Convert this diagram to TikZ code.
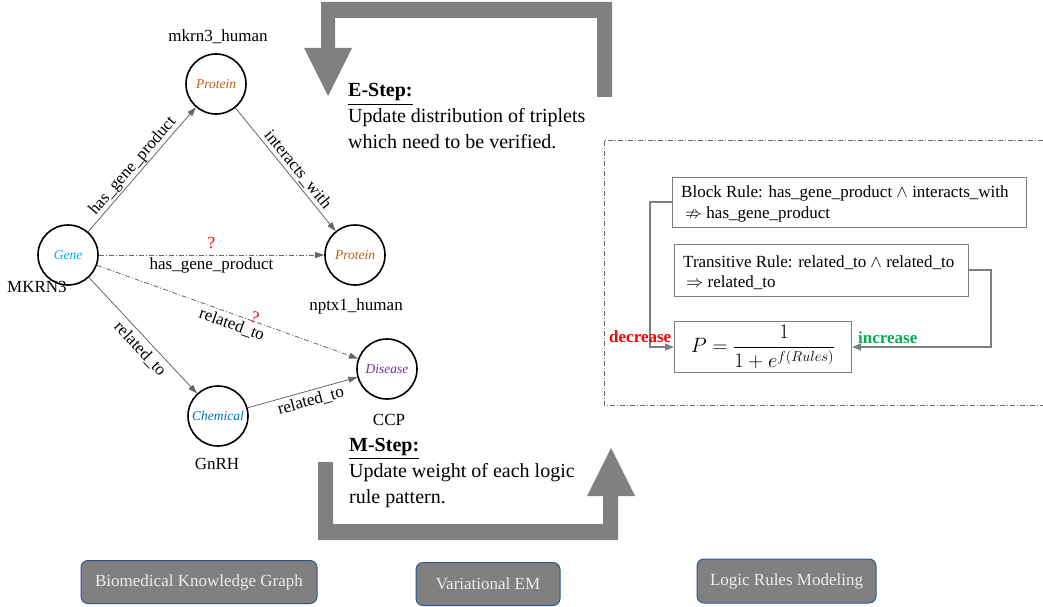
\documentclass[tikz,border=0pt]{standalone}
\usepackage{amssymb}
\usepackage{fontspec}
\setmainfont{Liberation Serif}
\usetikzlibrary{arrows.meta}
\definecolor{edgegray}{HTML}{666666}
\definecolor{bandgray}{HTML}{808080}
\definecolor{genec}{HTML}{00B0F0}
\definecolor{protc}{HTML}{C55A11}
\definecolor{chemc}{HTML}{0070C0}
\definecolor{disc}{HTML}{7030A0}
\definecolor{boxborder}{HTML}{2F5597}
\definecolor{boxtext}{HTML}{EDEDED}
\definecolor{rulegray}{HTML}{7F7F7F}
\definecolor{incgreen}{HTML}{00B050}
\begin{document}
\begin{tikzpicture}[x=1pt,y=-1pt,
  ent/.style={circle, draw=black, line width=1.6pt, minimum size=60pt, inner sep=0pt, font=\fontsize{13.5}{16}\selectfont\itshape},
  lbl/.style={font=\fontsize{17}{20}\selectfont, inner sep=1pt},
  rel/.style={draw=edgegray, line width=0.8pt, -{Triangle[length=9pt,width=6pt]}},
  qrel/.style={rel, dash pattern=on 5pt off 2pt on 1pt off 2pt},
  elbl/.style={font=\fontsize{17}{20}\selectfont, inner sep=1pt},
  qmark/.style={font=\fontsize{17}{20}\selectfont, text=red, inner sep=1pt},
  band/.style={fill=bandgray, draw=none},
  steptxt/.style={font=\fontsize{20}{26}\selectfont, anchor=base west, inner sep=0pt},
  rulebox/.style={draw=rulegray, line width=1pt, anchor=north west, inner sep=0pt},
  ruletxt/.style={font=\fontsize{17}{20}\selectfont, anchor=base west, inner sep=0pt},
  ruleline/.style={draw=rulegray, line width=1.2pt},
  rulearrow/.style={ruleline, -{Triangle[length=9pt,width=7pt]}},
  panel/.style={draw=boxborder, line width=1pt, fill=bandgray, rounded corners=7pt, text=boxtext, font=\fontsize{17}{20}\selectfont, inner sep=0pt}
]
\useasboundingbox (0,0) rectangle (1043,607);

% ---------- knowledge graph ----------
\node[ent, text=genec] (gene) at (68,255) {Gene};
\node[ent, text=protc] (prot1) at (216,84) {Protein};
\node[ent, text=protc] (prot2) at (355,255) {Protein};
\node[ent, text=disc] (dis) at (387,369) {Disease};
\node[ent, text=chemc] (chem) at (218,416) {Chemical};

\node[lbl] (lmk) at (218,37) {mkrn3\_human};
\node[lbl] (lMK) at (37,287) {MKRN3};
\node[lbl] (lnp) at (356,306) {nptx1\_human};
\node[lbl] (lcc) at (389,420) {CCP};
\node[lbl] (lgn) at (217,464) {GnRH};

\draw[rel] (gene) -- node[elbl, pos=0.48, sloped, above=0pt] {has\_gene\_product} (prot1);
\draw[rel] (prot1) -- node[elbl, pos=0.55, sloped, above=1pt] {interacts\_with} (prot2);
\draw[qrel] (gene) -- node[qmark, above=5pt] {?} node[elbl, below=1pt] {has\_gene\_product} (prot2);
\draw[qrel] (gene) -- node[qmark, pos=0.6, sloped, above=-3pt] {?} node[elbl, pos=0.53, sloped, below=2pt] {related\_to} (dis);
\draw[rel] (gene) -- node[elbl, pos=0.55, sloped, below=3pt] {related\_to} (chem);
\draw[rel] (chem) -- node[elbl, pos=0.55, sloped, below=2pt] {related\_to} (dis);

% ---------- EM loop ----------
\fill[band] (597,97) -- (597,18) -- (335,18) -- (335,48) -- (352,48) -- (328,96) -- (304,48) -- (321,48) -- (321,2) -- (612,2) -- (612,97) -- cycle;
\fill[band] (318,462) -- (333,462) -- (333,524) -- (603,524) -- (603,496) -- (587,496) -- (611,448) -- (635,496) -- (618,496) -- (618,540) -- (318,540) -- cycle;

\node[steptxt] (ehead) at (348,97) {\textbf{\underline{E-Step:}}};
\node[steptxt] (e1) at (348,122) {Update distribution of triplets};
\node[steptxt] (e2) at (348,148) {which need to be verified.};
\node[steptxt] (mhead) at (349,451) {\textbf{\underline{M-Step:}}};
\node[steptxt] (m1) at (349,477) {Update weight of each logic};
\node[steptxt] (m2) at (349,503) {rule pattern.};

% ---------- logic rules panel ----------
\draw[draw=edgegray, line width=0.8pt, dash pattern=on 5pt off 2pt on 1pt off 2pt] (1043,140) -- (604,140) -- (604,405) -- (1043,405);

\node[rulebox, minimum width=354pt, minimum height=50pt] (block) at (672,177) {};
\node[ruletxt] (block1) at (681,197) {Block Rule: has\_gene\_product $\wedge$ interacts\_with};
\node[ruletxt] (block2) at (685,218) {$\nRightarrow$ has\_gene\_product};
\node[rulebox, minimum width=294pt, minimum height=52pt] (trans) at (674,244) {};
\node[ruletxt] (trans1) at (683,267) {Transitive Rule: related\_to $\wedge$ related\_to};
\node[ruletxt] (trans2) at (686,287) {$\Rightarrow$ related\_to};
\node[draw=rulegray, line width=1pt, minimum width=177pt, minimum height=51pt, inner sep=0pt, font=\fontsize{22.5}{26}\selectfont, anchor=north west] (prob) at (674,321) {$\displaystyle P=\frac{1}{1+e^{f(Rules)}}$};

\coordinate (bl) at (650,202);
\coordinate (tr) at (991,270);
\draw[rulearrow] (block.west |- bl) -- (bl) |- (prob.west |- 0,347);
\draw[rulearrow] (trans.east |- tr) -- (tr) |- (prob.east |- 0,347);

\node[font=\fontsize{17}{20}\selectfont\bfseries, text=red, anchor=base west, inner sep=0pt] (dec) at (609,342) {decrease};
\node[font=\fontsize{17}{20}\selectfont\bfseries, text=incgreen, anchor=base west, inner sep=0pt] (inc) at (858,343) {increase};

% ---------- bottom panels ----------
\node[panel, minimum width=236pt, minimum height=43pt] (p1) at (199,582) {Biomedical Knowledge Graph};
\node[panel, minimum width=144pt, minimum height=43pt] (p2) at (488,584) {Variational EM};
\node[panel, minimum width=179pt, minimum height=44pt] (p3) at (786.5,581) {Logic Rules Modeling};
\end{tikzpicture}
\end{document}
